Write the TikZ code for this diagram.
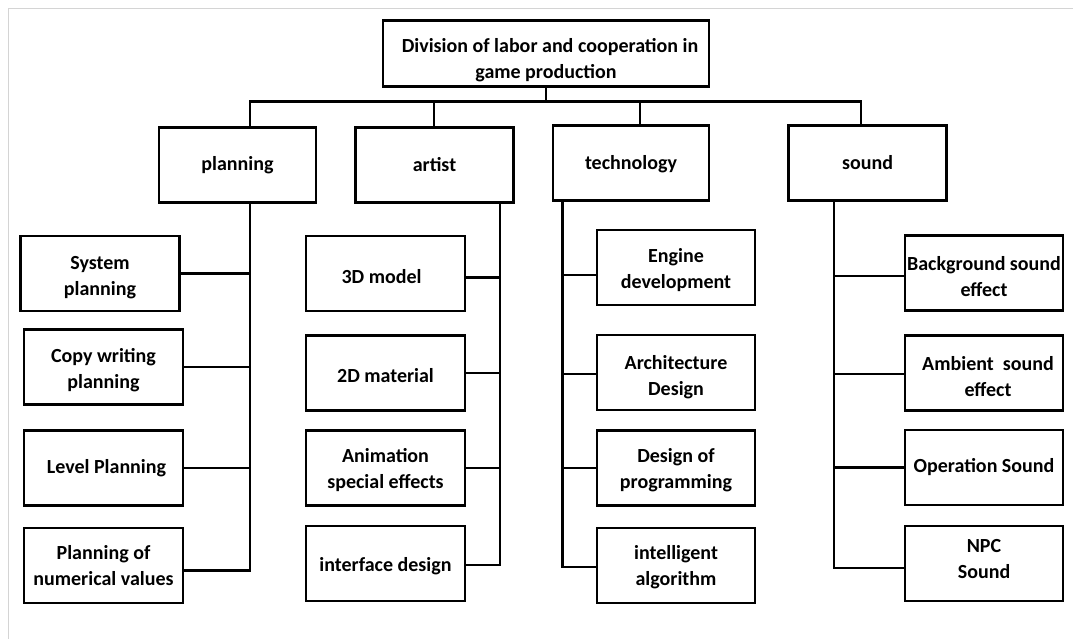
\documentclass[tikz,border=0pt]{standalone}
\usepackage{fontspec}
\setmainfont{Carlito}
% a tall invisible strut on the first line lowers the text block a little
\newcommand{\toplift}[1]{\rule{0pt}{#1}}
\begin{document}
\begin{tikzpicture}[x=1pt,y=-1pt,
  box/.style={draw=black,line width=2.8pt,fill=white,inner sep=1pt,align=center,
    font=\bfseries\fontsize{20}{26}\selectfont,
    minimum width=#1,minimum height=75pt},
  box/.default=157pt,
  link/.style={draw=black,line width=2.3pt,line cap=rect},
  frame/.style={draw=black!17,line width=1pt}]
\useasboundingbox (0,0) rectangle (1073,639);
% light outer frame
\draw[frame] (1073,9) -- (8,9) -- (8,639);

% root and category boxes
\node[box=326pt,minimum height=66pt] (root) at (546,53.5) {\toplift{27pt}\hspace*{8pt}Division of labor and cooperation in\\game production};
\node[box] (plan) at (237.5,165) {planning};
\node[box=158pt] (art) at (434.5,165) {artist};
\node[box=156pt,minimum height=75pt] (tech) at (631,163) {\toplift{17pt}technology};
\node[box=158pt,minimum height=75pt] (snd) at (867.5,163) {sound};

% x positions of the stems and spines
\coordinate (bus) at (0,101.5);
\coordinate (xP) at (250,0);
\coordinate (xA) at (434,0);
\coordinate (xT) at (640,0);
\coordinate (xS) at (861,0);
\coordinate (sP) at (250,0);
\coordinate (sA) at (500,0);
\coordinate (sT) at (562.5,0);
\coordinate (sS) at (834,0);

% planning leaves
\node[box=159pt] (p1) at (100,273.5) {\toplift{22pt}System\\planning};
\node[box=159pt] (p2) at (103.5,367) {\toplift{20pt}Copy writing\\planning};
\node[box=159pt] (p3) at (103.5,468) {\hspace*{6pt}Level Planning\rule[-4pt]{0pt}{4pt}};
\node[box=159pt] (p4) at (103.5,565.5) {Planning of\\numerical values};

% artist leaves
\node[box=159pt] (a1) at (385.5,273.5) {\toplift{20pt}3D model\hspace*{8pt}};
\node[box=159pt] (a2) at (385.5,373) {\toplift{20pt}2D material};
\node[box=159pt] (a3) at (385.5,468) {\toplift{19pt}Animation\\special effects};
\node[box=159pt] (a4) at (385.5,563.5) {\toplift{19pt}interface design};

% technology leaves
\node[box=158pt] (t1) at (676,267.5) {\toplift{19pt}Engine\\development};
\node[box=158pt] (t2) at (676,372.5) {\toplift{24pt}Architecture\\Design};
\node[box=158pt] (t3) at (676,468) {\toplift{19pt}Design of\\programming};
\node[box=158pt] (t4) at (676,565.5) {\toplift{18pt}intelligent\\algorithm};

% sound leaves
\node[box=158pt] (s1) at (984,273) {\toplift{22pt}Background sound\\effect};
\node[box=158pt] (s2) at (984,373) {\toplift{21pt}\hspace*{8pt}Ambient\ \ sound\\\hspace*{8pt}effect};
\node[box=158pt] (s3) at (984,467.5) {Operation Sound\rule[-4pt]{0pt}{4pt}};
\node[box=158pt] (s4) at (984,563.5) {NPC\\Sound\rule[-10pt]{0pt}{10pt}};

% top tree
\draw[link] (root.south) -- (root.south |- bus);
\draw[link] (xP |- bus) -- (xS |- bus);
\draw[link] (xP |- bus) -- (xP |- plan.north);
\draw[link] (xA |- bus) -- (xA |- art.north);
\draw[link] (xT |- bus) -- (xT |- tech.north);
\draw[link] (xS |- bus) -- (xS |- snd.north);

% spines
\draw[link] (sP |- plan.south) -- (sP |- 0,570.5);
\draw[link] (sA |- art.south) -- (sA |- 0,565);
\draw[link] (sT |- tech.south) -- (sT |- 0,567);
\draw[link] (sS |- snd.south) -- (sS |- 0,568);

% branches
\draw[link] (p1.east) -- (p1.east -| sP);
\draw[link] (p2.east) -- (p2.east -| sP);
\draw[link] (p3.east) -- (p3.east -| sP);
\draw[link] ([yshift=-5pt]p4.east) -- ([yshift=-5pt]p4.east -| sP);

\draw[link] ([yshift=-4pt]a1.east) -- ([yshift=-4pt]a1.east -| sA);
\draw[link] (a2.east) -- (a2.east -| sA);
\draw[link] (a3.east) -- (a3.east -| sA);
\draw[link] ([yshift=-1.5pt]a4.east) -- ([yshift=-1.5pt]a4.east -| sA);

\draw[link] ([yshift=-7.5pt]t1.west) -- ([yshift=-7.5pt]t1.west -| sT);
\draw[link] ([yshift=-1.5pt]t2.west) -- ([yshift=-1.5pt]t2.west -| sT);
\draw[link] (t3.west) -- (t3.west -| sT);
\draw[link] ([yshift=-1.5pt]t4.west) -- ([yshift=-1.5pt]t4.west -| sT);

\draw[link] ([yshift=-3pt]s1.west) -- ([yshift=-3pt]s1.west -| sS);
\draw[link] ([yshift=-1pt]s2.west) -- ([yshift=-1pt]s2.west -| sS);
\draw[link] (s3.west) -- (s3.west -| sS);
\draw[link] ([yshift=-4.5pt]s4.west) -- ([yshift=-4.5pt]s4.west -| sS);
\end{tikzpicture}
\end{document}
